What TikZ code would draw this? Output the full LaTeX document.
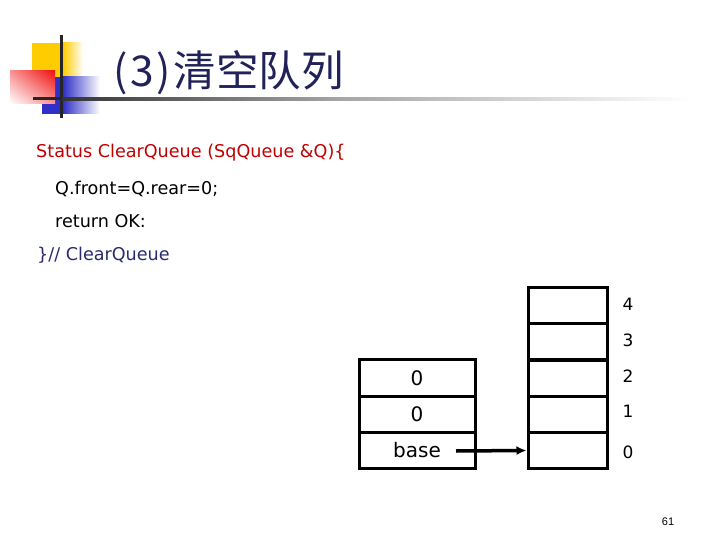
\documentclass[tikz,border=0pt]{standalone}
\usepackage{fontspec}
\setmainfont{DejaVu Sans}
\newfontfamily\cjk{Noto Sans CJK SC}
\newfontfamily\pnum{Liberation Sans}
\usetikzlibrary{arrows.meta,shadings}
\definecolor{titleblue}{HTML}{22225A}
\definecolor{codered}{HTML}{C00000}
\definecolor{codeblue}{HTML}{2A2A70}
\definecolor{logoyellow}{HTML}{FFCC00}
\definecolor{logoblue}{HTML}{3030C8}
\definecolor{logored}{HTML}{F01010}
\newcommand{\hw}[1]{\makebox[0.5em]{#1}}
\begin{document}
\begin{tikzpicture}[x=1pt,y=-1pt,
  codetext/.style={anchor=base west,inner sep=0pt,font=\fontsize{17.6}{20}\selectfont},
  leftcell/.style={draw,line width=3pt,inner sep=0pt,minimum width=116pt,minimum height=36.5pt,font=\fontsize{20}{24}\selectfont},
  rightcell/.style={draw,line width=3pt,inner sep=0pt,minimum width=79pt,minimum height=36pt},
  idx/.style={inner sep=0pt,font=\fontsize{17}{20}\selectfont}]
\useasboundingbox (0,0) rectangle (720,540);
\fill[white] (0,0) rectangle (720,540);
% logo
\fill[logoyellow] (32,43) rectangle (63,77);
\shade[left color=logoyellow,right color=white] (63,43) rectangle (83,77);
\fill[logoblue] (42,77) rectangle (63,114);
\shade[left color=logoblue,right color=white] (63,77) rectangle (100,114);
\shade[upper left=logored!45!white,upper right=logored,lower right=logored!45!white,lower left=white] (10,71) rectangle (55,104);
\fill[black!85] (59.5,35) rectangle (62.5,118);
\fill[black!85] (33,97.5) rectangle (62,100.5);
\shade[left color=black!80,right color=black!35] (62,97.5) rectangle (340,100.5);
\shade[left color=black!35,right color=white] (340,97.5) rectangle (690,100.5);
% title
\node[anchor=base west,inner sep=0pt,text=titleblue,font=\cjk\fontsize{42.5}{46}\selectfont] (title) at (110,87) {\hw{(}\hw{3}\hw{)}清空队列};
% code
\node[codetext,text=codered] (l1) at (36,158) {Status ClearQueue (SqQueue \&Q)\{};
\node[codetext] (l2) at (55,195) {Q.front=Q.rear=0;};
\node[codetext] (l3) at (55,227) {return OK:};
\node[codetext,text=codeblue] (l4) at (37,260) {\}// ClearQueue};
% left table
\node[leftcell] (rear) at (417,378) {0};
\node[leftcell] (front) at (417,414.5) {0};
\node[leftcell] (base) at (417,450.5) {base};
% right table
\node[rightcell] (c4) at (567.5,305.5) {};
\node[rightcell] (c3) at (567.5,341.5) {};
\node[rightcell] (c2) at (567.5,378) {};
\node[rightcell] (c1) at (567.5,414.5) {};
\node[rightcell] (c0) at (567.5,450.5) {};
\node[idx] (i4) at (628,304) {4};
\node[idx] (i3) at (628,340) {3};
\node[idx] (i2) at (628,376) {2};
\node[idx] (i1) at (628,411) {1};
\node[idx] (i0) at (628,452) {0};
% arrow
\coordinate (astart) at (456,451);
\draw[line width=3.5pt,-{Latex[length=10pt,width=9pt]}] (astart) -- (c0.west);
% page number
\node[inner sep=0pt,font=\pnum\fontsize{11}{13}\selectfont] (pg) at (668,522) {61};
\end{tikzpicture}
\end{document}
